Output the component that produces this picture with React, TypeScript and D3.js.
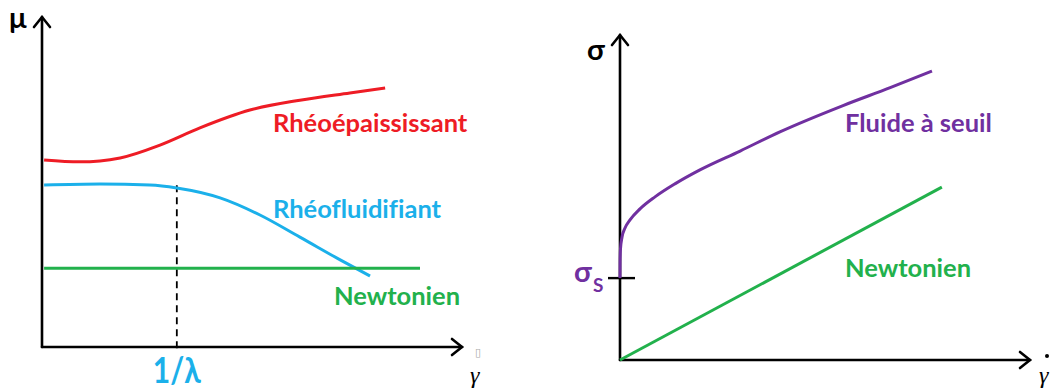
import React from "react";
import * as d3 from "d3";

// Viscosity μ versus shear rate (left panel)
const shearThickening: [number, number][] = [
  [0.5, 56.7], [9, 56.1], [18.6, 57.3], [28.1, 61.2], [37.6, 66.4],
  [49.5, 71.8], [61.4, 74.8], [73.3, 77.0], [81.7, 78.5],
];
const shearThinning: [number, number][] = [
  [0.5, 49.1], [13.8, 49.4], [25.7, 49.1], [32.1, 48.2], [42.4, 45.2],
  [51.9, 40.0], [61.4, 33.3], [71.0, 26.4], [78.1, 21.5],
];
const newtonianViscosity: [number, number][] = [[0.5, 23.9], [90, 23.9]];
const lambdaInv = 32.1;
const lambdaLineTop = 49;

// Stress σ versus shear rate (right panel)
const yieldFluid: [number, number][] = [
  [0, 25.2], [0.02, 30.2], [0.12, 34.2], [0.49, 37.8], [1.22, 40.6], [2.44, 43.1],
  [4.88, 46.5], [8.54, 50.2], [13.4, 54.2], [19.5, 58.5], [29.3, 64.3], [39.0, 70.2],
  [54.4, 78.3], [65.9, 83.8], [76.1, 88.9],
];
const newtonianStress: [number, number][] = [[0, 0], [78.5, 53.2]];
const yieldStress = 25.2;

const labelsLeft = ["Rhéoépaississant", "Rhéofluidifiant", "Newtonien"];
const labelsRight = ["Fluide à seuil", "Newtonien"];

const RED = "#ee1c25";
const BLUE = "#1bb0ea";
const GREEN = "#22b14c";
const PURPLE = "#7030a0";
const FONT = "Lato, 'Open Sans', sans-serif";
const LABEL_SIZE = 25.5;

const xL = d3.scaleLinear().domain([0, 100]).range([42, 462]);
const yL = d3.scaleLinear().domain([0, 100]).range([347, 17]);
const xR = d3.scaleLinear().domain([0, 100]).range([620, 1030]);
const yR = d3.scaleLinear().domain([0, 100]).range([360, 35]);

const lineL = d3.line<[number, number]>().x((d) => xL(d[0])).y((d) => yL(d[1])).curve(d3.curveMonotoneX);
const lineR = d3.line<[number, number]>().x((d) => xR(d[0])).y((d) => yR(d[1])).curve(d3.curveMonotoneX);

const labelStyle = { fontVariantLigatures: "none" } as React.CSSProperties;

function Axes({ x0, y0, x1, y1 }: { x0: number; y0: number; x1: number; y1: number }) {
  const a = 8;
  return (
    <g stroke="#000" strokeWidth={2.6} fill="none" strokeLinecap="round" strokeLinejoin="miter">
      <line x1={x0} y1={y0} x2={x0} y2={y1} />
      <line x1={x0} y1={y0} x2={x1} y2={y0} />
      <polyline points={`${x0 - a},${y1 + a + 2} ${x0},${y1} ${x0 + a},${y1 + a + 2}`} />
      <polyline points={`${x1 - a - 2},${y0 - a} ${x1},${y0} ${x1 - a - 2},${y0 + a}`} />
    </g>
  );
}

export default function App() {
  return (
    <svg width={1053} height={391} style={{ display: "block", position: "absolute", left: 0, top: 0 }}>
      <rect width={1053} height={391} fill="#fff" />
      {/* left panel */}
      <Axes x0={xL(0)} y0={yL(0)} x1={xL(100)} y1={yL(100)} />
      <text x={9} y={28} fontFamily={FONT} fontWeight="bold" fontSize={29}>μ</text>
      <line x1={xL(lambdaInv)} x2={xL(lambdaInv)} y1={yL(lambdaLineTop)} y2={yL(-1)}
        stroke="#000" strokeWidth={1.8} strokeDasharray="7,5" />
      <path d={lineL(shearThickening) ?? ""} fill="none" stroke={RED} strokeWidth={3} />
      <path d={lineL(shearThinning) ?? ""} fill="none" stroke={BLUE} strokeWidth={3} />
      <path d={lineL(newtonianViscosity) ?? ""} fill="none" stroke={GREEN} strokeWidth={3} />
      <text x={273} y={132} fontFamily={FONT} fontWeight="bold" fontSize={LABEL_SIZE} fill={RED} style={labelStyle}>{labelsLeft[0]}</text>
      <text x={273} y={218} fontFamily={FONT} fontWeight="bold" fontSize={LABEL_SIZE} fill={BLUE} style={labelStyle}>{labelsLeft[1]}</text>
      <text x={334} y={305} fontFamily={FONT} fontWeight="bold" fontSize={LABEL_SIZE} fill={GREEN} style={labelStyle}>{labelsLeft[2]}</text>
      <text x={xL(lambdaInv)} y={383} textAnchor="middle" fontFamily={FONT} fontWeight="bold" fontSize={37}
        fill={BLUE} textLength={48} lengthAdjust="spacingAndGlyphs">1/λ</text>
      <text x={475} y={356} fontFamily="DejaVu Sans" fontSize={11} fill="#aaa">▯</text>
      <text x={470} y={383} fontFamily="'Liberation Serif', serif" fontStyle="italic" fontSize={24}>γ</text>

      {/* right panel */}
      <Axes x0={xR(0)} y0={yR(0)} x1={xR(100)} y1={yR(100)} />
      <text x={587} y={60} fontFamily={FONT} fontWeight="bold" fontSize={29}>σ</text>
      <line x1={608} x2={635} y1={yR(yieldStress)} y2={yR(yieldStress)} stroke="#000" strokeWidth={2.4} />
      <path d={lineR(yieldFluid) ?? ""} fill="none" stroke={PURPLE} strokeWidth={3} />
      <path d={lineR(newtonianStress) ?? ""} fill="none" stroke={GREEN} strokeWidth={3} />
      <text x={574} y={282} fontFamily={FONT} fontWeight="bold" fontSize={29} fill={PURPLE}>σ</text>
      <text x={593} y={292} fontFamily={FONT} fontWeight="bold" fontSize={19} fill={PURPLE}>S</text>
      <text x={845} y={132} fontFamily={FONT} fontWeight="bold" fontSize={LABEL_SIZE} fill={PURPLE} style={labelStyle}>{labelsRight[0]}</text>
      <text x={845} y={277} fontFamily={FONT} fontWeight="bold" fontSize={LABEL_SIZE} fill={GREEN} style={labelStyle}>{labelsRight[1]}</text>
      <circle cx={1047} cy={356} r={2} fill="#000" />
      <text x={1039} y={383} fontFamily="'Liberation Serif', serif" fontStyle="italic" fontSize={24}>γ</text>
    </svg>
  );
}
